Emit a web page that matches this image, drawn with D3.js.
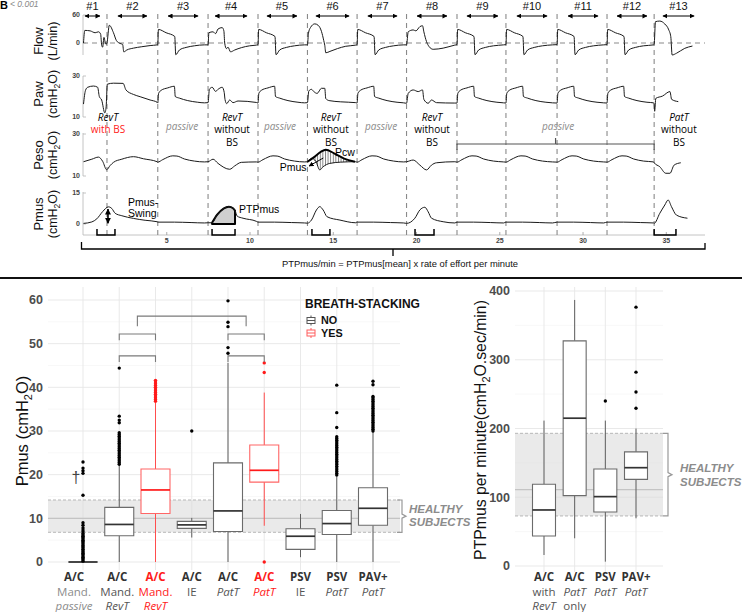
<!DOCTYPE html>
<html><head><meta charset="utf-8">
<script src="https://cdn.jsdelivr.net/npm/d3@7"></script>
<style>html,body{margin:0;padding:0;background:#fff}svg{display:block}</style>
</head><body>
<svg id="chart" width="742" height="612"></svg>
<script>
// ================= TOP PANEL DATA (time in seconds) =================
const breathNames  = ["#1","#2","#3","#4","#5","#6","#7","#8","#9","#10","#11","#12","#13"];
const breathOnsets = [0,1.41,4.46,7.48,10.48,13.45,16.43,19.40,22.43,25.37,28.44,31.44,34.27];
const arrowFrom    = [0.09,2.07,5.08,7.90,11.02,13.96,17.08,20.03,23.03,26.03,29.10,32.04,34.80];
const arrowTo      = [0.99,3.81,6.88,9.82,12.82,15.95,18.83,21.83,24.89,27.84,30.90,33.84,36.67];
const segTimes = [0,4.46,7.48,10.48,13.45,16.43,19.40,22.43,25.37,28.44,31.44,34.27];
const segKinds = ["revtBS","passive","revtA","passive","revtB","passive","revtC","passive","passive","passive","passive","patt"];
const traceEnd = 37.0;

const flowTpl = {
  revtBS:[[0,0],[0.08,27],[0.4,26],[0.7,22],[0.9,24],[1.03,19],[1.09,-4],[1.15,-9],[1.23,12],[1.3,2],[1.36,-3],[1.41,0],[1.55,38],[1.8,22],[1.98,5],[2.2,-1],[2.35,-3],[2.42,-19],[2.6,-15],[3.0,-11],[3.5,-8],[4.0,-5.5],[4.42,-4]],
  passive:[[0,-3.5],[0.04,29],[0.5,22],[1.02,14],[1.08,-25],[1.3,-15],[1.7,-9.5],[2.2,-6],[2.8,-4],[3.1,-3.5]],
  revtA:[[0,-4],[0.05,22],[0.3,24],[0.45,20],[0.6,30],[0.85,33],[0.95,26],[1.0,0],[1.1,-12],[1.2,-9],[1.35,-19],[1.6,-15],[2.0,-10],[2.5,-6],[2.9,-4.5]],
  revtB:[[0,-4],[0.06,21],[0.18,33],[0.44,41],[0.64,38],[0.84,25],[0.98,5],[1.04,-5],[1.1,-21],[1.35,-18],[1.8,-12],[2.3,-7],[2.9,-4.5]],
  revtC:[[0,-4],[0.1,24],[0.4,28],[0.56,26],[0.8,35],[0.96,37],[1.04,24],[1.2,3],[1.36,-8],[1.6,-13.5],[2.2,-11],[2.9,-4.5]],
  patt:[[0,-3],[0.08,45.7],[0.34,47],[0.64,40.7],[0.88,28],[1.0,13.6],[1.08,-25.7],[1.34,-22],[1.84,-11.4],[2.3,-6.5],[2.8,-4.3]]
};
const pawTpl = {
  revtBS:[[0,16.3],[0.12,23],[0.25,24.5],[0.6,25.1],[0.85,24.5],[0.95,20],[1.09,18.3],[1.28,12],[1.36,15],[1.43,26],[1.8,26.5],[2.38,26.4],[2.55,23.2],[3.0,21],[3.4,19.9],[4.0,18.3],[4.42,17.2]],
  passive:[[0,16.8],[0.05,21.5],[0.2,23],[0.6,24.2],[1.0,25],[1.05,20],[1.3,19.2],[1.8,18],[2.4,17.2],[2.8,16.9],[3.1,16.8]],
  revtA:[[0,17],[0.08,23.5],[0.25,24.5],[0.45,22.5],[0.6,23.5],[0.85,24.5],[0.97,22],[1.02,18.5],[1.12,16.5],[1.3,18.3],[1.5,17],[1.8,17.8],[2.9,17.1]],
  revtB:[[0,17],[0.08,22.7],[0.24,23.5],[0.38,22.4],[0.58,21.5],[0.84,24],[1.04,24],[1.1,19],[1.3,18],[2.0,17.4],[2.9,17]],
  revtC:[[0,16.7],[0.1,21.5],[0.4,23.2],[0.7,22.4],[0.96,23.2],[1.04,18.6],[1.3,16.7],[1.5,18.3],[1.8,17],[2.9,16.8]],
  patt:[[0,16.2],[0.03,12.8],[0.1,19.1],[0.5,20.2],[0.95,22.4],[1.05,18.6],[1.45,17.5],[2.8,15.9]]
};
const pesoTpl = {
  revtBS:[[0,16.8],[0.5,18],[0.9,19],[1.15,17],[1.39,13],[1.6,15],[1.8,16.5],[2.3,18],[3.0,19.2],[3.6,18.2],[4.42,16.8]],
  passive:[[0,16.6],[0.3,17.8],[0.9,19.6],[1.15,19.5],[1.6,18.1],[2.2,17.1],[2.8,16.7],[3.1,16.6]],
  revtA:[[0,16.8],[0.3,18],[0.6,16],[1.3,13.2],[1.6,14.8],[2.0,16.5],[2.9,16.7]],
  revtB:[[0,16.8],[0.24,18.4],[0.5,17],[0.74,12.9],[0.94,14.4],[1.34,16],[2.0,16.6],[2.9,16.8]],
  revtC:[[0,16.8],[0.4,17.6],[0.8,15.2],[1.2,12.9],[1.5,15.2],[1.8,16.3],[2.9,16.8]],
  patt:[[0,16.3],[0.34,14.4],[0.7,11.3],[0.95,11.3],[1.2,15.2],[1.6,16.3],[2.8,16.3]]
};
const pmusTpl = {
  revtBS:[[0,0.3],[0.5,1],[0.8,2.5],[1.15,6],[1.5,8.3],[1.7,7.5],[1.9,5.2],[2.3,4],[3.0,2.7],[3.7,1.8],[4.42,1.1]],
  passive:[[0,0.9],[1.0,0.9],[2.0,0.7],[2.8,0.5],[3.1,0.5]],
  revtA:[[0,0.6],[0.24,0.6],[0.55,4.5],[0.95,7.6],[1.25,8.4],[1.5,7.6],[1.62,6.5],[1.75,3.8],[2.1,2.8],[2.9,1.3]],
  revtB:[[0,0.4],[0.24,1.9],[0.54,6.8],[0.74,8.4],[0.94,6.8],[1.18,3.5],[1.95,1.9],[2.9,0.6]],
  revtC:[[0,0.3],[0.5,2.8],[0.8,6.8],[1.1,8.1],[1.3,5.9],[1.5,2.8],[2.2,1.1],[2.9,0.5]],
  patt:[[0,0.3],[0.34,5.2],[0.64,9.2],[0.84,11.6],[1.04,8.4],[1.34,4.3],[2.0,2.8],[2.8,1.1]]
};
const pcwOnset = 13.45;
const pcwKnots = [[0,16.8],[0.4,19],[0.8,21.5],[1.1,22.5],[1.6,20.8],[2.2,18.3],[2.85,16.8]];
const ptpWindow = [7.72, 9.10];
const effortBrackets = [[0.81,1.89],[7.72,9.10],[13.72,14.80],[19.91,21.05],[34.27,35.58]];
const passiveBracket = [22.43, 34.27];
const typeLabelT = [1.47,5.92,8.92,11.80,14.86,17.87,20.93,28.50,35.76];
const typeLabelLines = [["RevT","with BS"],["passive"],["RevT","without","BS"],["passive"],["RevT","without","BS"],["passive"],["RevT","without","BS"],["passive"],["PatT","without","BS"]];
const traceTitles = ["Flow","Paw","Peso","Pmus"];
const traceUnits  = ["(L/min)","(cmH|2|O)","(cmH|2|O)","(cmH|2|O)"];
const flowTicks=[0,60], pawTicks=[10,30], pesoTicks=[10,30], pmusTraceTicks=[0,15];
const timeTicks=[5,10,15,20,25,30,35];

// ================= BOTTOM-LEFT DATA (Pmus, cmH2O) =================
const pmusKeys  = ["passive","mandRevT","mandRevTBS","acIE","acPatT","acPatTBS","psvIE","psvPatT","pavPatT"];
const pmusLine1 = ["A/C","A/C","A/C","A/C","A/C","A/C","PSV","PSV","PAV+"];
const pmusLine2 = ["Mand.","Mand.","Mand.","IE","PatT","PatT","IE","PatT","PatT"];
const pmusLine3 = ["passive","RevT","RevT","","","","","",""];
const pmusBS    = [0,0,1,0,0,1,0,0,0];
const pmusLo  = [0,0,0,5.6,0,8.3,1.1,0,0];
const pmusQ1  = [0,6.0,11.1,7.7,7.0,18.3,2.9,6.3,8.4];
const pmusMed = [0,8.6,16.5,8.5,11.7,21.0,5.9,8.8,12.3];
const pmusQ3  = [0,12.5,21.3,9.3,22.7,26.8,7.6,11.8,17.0];
const pmusHi  = [0,22.2,36.5,10.1,45.6,38.8,11.0,19.6,29.8];
const outPassive = [0.2,0.5,0.8,1.1,1.4,1.7,2.0,2.3,2.6,2.9,3.2,3.5,3.8,4.1,4.4,4.7,5.0,5.3,5.6,5.9,6.2,6.5,6.9,7.3,7.8,8.4,9.0,15.3,20.3,20.9,21.5,22.9];
const outMandRevT = [22.4,22.8,23.2,23.6,24.0,24.4,24.8,25.2,25.6,26.0,26.4,26.8,27.2,27.6,28.0,28.4,28.8,29.2,29.6,31.9,32.5,33.4,44.4];
const outMandRevTBS = [36.8,37.2,37.6,38.0,38.4,38.8,39.2,39.6,40.0,40.4,40.8,41.2,41.6];
const outAcIE = [30.0];
const outAcPatT = [47.8,49.1,53.9,54.9,59.8];
const outAcPatTBS = [0.0,43.4,45.6];
const outPsvIE = [];
const outPsvPatT = [19.9,20.3,20.7,21.1,21.5,21.9,22.3,22.7,23.1,23.5,23.9,24.3,24.7,25.1,25.5,25.9,26.3,26.7,27.1,27.5,27.9,28.3,28.7,30.8,34.2,40.5];
const outPavPatT = [30.0,30.4,30.8,31.2,31.6,32.0,32.4,32.8,33.2,33.6,34.0,34.4,34.8,35.2,35.6,36.0,36.4,36.8,37.2,37.6,37.9,40.6,41.4];
const pmusOut = [outPassive,outMandRevT,outMandRevTBS,outAcIE,outAcPatT,outAcPatTBS,outPsvIE,outPsvPatT,outPavPatT];
const pmusTicks = [0,10,20,30,40,50,60];
const pmusHealthy = [6.8, 14.2, 10];
// significance brackets: [from index, to index, top value, leg value]
const pmusSig = [[1,2,47.2,45.8],[1,2,52.2,50.8],[1.5,4.5,56.3,54.0],[4,5,52.2,50.8],[4,5,47.2,45.8]];
const legendLabels = ["NO","YES"];

// ================= BOTTOM-RIGHT DATA (PTPmus per minute) =================
const ptpKeys  = ["acRevT","acPatT","psvPatT","pavPatT"];
const ptpLine1 = ["A/C","A/C","PSV","PAV+"];
const ptpLine2 = ["with","PatT","PatT","PatT"];
const ptpLine3 = ["RevT","only","",""];
const ptpLo  = [16,40.3,6.3,69.4];
const ptpQ1  = [43.7,102.3,78.6,126];
const ptpMed = [81.5,215,100.9,143];
const ptpQ3  = [118.9,327.5,141.2,166];
const ptpHi  = [211.5,387,211.5,200];
const ptpOut = [[],[],[240],[229.5,253,282,376.5]];
const ptpTicks = [0,100,200,300,400];
const ptpHealthy = [72.8, 193, 111];

// ================= DRAWING =================
const svg = d3.select("#chart");
const SANS = "'Liberation Sans', Arial, Helvetica, sans-serif";
const LAB = "'Open Sans', 'Liberation Sans', sans-serif";
const RED = "#ff1a1a";

const defs = svg.append("defs");
defs.append("marker").attr("id","ah").attr("viewBox","0 0 10 10").attr("refX",9).attr("refY",5)
  .attr("markerWidth",5).attr("markerHeight",5).attr("orient","auto-start-reverse")
  .append("path").attr("d","M0,0L10,5L0,10z").attr("fill","#000");
defs.append("marker").attr("id","ah2").attr("viewBox","0 0 10 10").attr("refX",9).attr("refY",5)
  .attr("markerUnits","userSpaceOnUse").attr("markerWidth",6).attr("markerHeight",6).attr("orient","auto-start-reverse")
  .append("path").attr("d","M0,0L10,5L0,10z").attr("fill","#000");
const hp = defs.append("pattern").attr("id","hatch").attr("width",2.6).attr("height",4).attr("patternUnits","userSpaceOnUse");
hp.append("line").attr("x1",0.5).attr("x2",0.5).attr("y1",0).attr("y2",4).attr("stroke","#222").attr("stroke-width",0.6);

function interp(pts,t){
  for(let i=0;i<pts.length-1;i++){const [a,va]=pts[i],[b,vb]=pts[i+1]; if(t>=a&&t<=b) return va+(vb-va)*(t-a)/(b-a);}
  return t<pts[0][0]?pts[0][1]:pts[pts.length-1][1];
}
function buildTrace(tpl){
  const pts=[];
  segTimes.forEach((t0,i)=>{
    const tEnd = i+1<segTimes.length ? segTimes[i+1] : traceEnd+0.05;
    tpl[segKinds[i]].forEach(([dt,v])=>{ if(t0+dt < tEnd-0.005) pts.push([t0+dt,v]); });
  });
  return pts;
}

// top-left fragment
svg.append("text").attr("x",0).attr("y",9).attr("font-family",SANS).attr("font-weight","bold").attr("font-size",11).text("B");
svg.append("text").attr("x",10).attr("y",7).attr("font-family",SANS).attr("font-style","italic").attr("font-size",8.5).attr("fill","#888").text("< 0.001");

const tx = d3.scaleLinear().domain([0,37]).range([83.5,699.6]);
const yFlow = d3.scaleLinear().domain([0,60]).range([43,15]);
const yPaw  = d3.scaleLinear().domain([10,30]).range([117,76]);
const yPeso = d3.scaleLinear().domain([10,30]).range([176,134]);
const yPm   = d3.scaleLinear().domain([0,15]).range([224,193]);

const topG = svg.append("g");
const axesDef = [[yFlow,flowTicks,[15,55]],[yPaw,pawTicks,[76,117]],[yPeso,pesoTicks,[133,176]],[yPm,pmusTraceTicks,[192,235]]];
axesDef.forEach(([ys,ticks,ext])=>{
  topG.append("line").attr("x1",83).attr("x2",83).attr("y1",ext[0]).attr("y2",ext[1]).attr("stroke","#b5b5b5").attr("stroke-width",0.8);
  ticks.forEach(v=>{
    topG.append("line").attr("x1",83).attr("x2",86).attr("y1",ys(v)).attr("y2",ys(v)).attr("stroke","#b5b5b5").attr("stroke-width",0.8);
    topG.append("text").attr("x",80).attr("y",ys(v)).attr("dy","0.35em").attr("text-anchor","end")
      .attr("font-family",SANS).attr("font-weight","bold").attr("font-size",7).attr("fill","#444").text(v);
  });
});
topG.append("line").attr("x1",83).attr("x2",705).attr("y1",235).attr("y2",235).attr("stroke","#b5b5b5").attr("stroke-width",0.8);
timeTicks.forEach(v=>{
  topG.append("line").attr("x1",tx(v)).attr("x2",tx(v)).attr("y1",232).attr("y2",235).attr("stroke","#999").attr("stroke-width",0.8);
  topG.append("text").attr("x",tx(v)).attr("y",241).attr("dy","0.35em").attr("text-anchor","middle")
    .attr("font-family",SANS).attr("font-weight","bold").attr("font-size",7).attr("fill","#444").text(v);
});
const titleY = [41,94,155,214];
traceTitles.forEach((t,i)=>{
  const g = topG.append("g").attr("transform",`translate(38,${titleY[i]}) rotate(-90)`);
  g.append("text").attr("text-anchor","middle").attr("dy","0.35em").attr("font-family",SANS).attr("font-size",13).attr("fill","#111").text(t);
  const u = topG.append("g").attr("transform",`translate(53,${titleY[i]}) rotate(-90)`)
    .append("text").attr("text-anchor","middle").attr("dy","0.35em").attr("font-family",SANS).attr("font-size",12.5).attr("fill","#111");
  const parts = traceUnits[i].split("|");
  parts.forEach((p,j)=>{
    const ts = u.append("tspan").text(p);
    if(j===1) ts.attr("font-size",8.5).attr("dy","3");
    if(j===2) ts.attr("dy","-3");
  });
});
breathOnsets.slice(1).forEach(t=>{
  topG.append("line").attr("x1",tx(t)).attr("x2",tx(t)).attr("y1",14).attr("y2",236)
    .attr("stroke","#8a8a8a").attr("stroke-width",1.1).attr("stroke-dasharray","5,4");
});
topG.append("line").attr("x1",83).attr("x2",705).attr("y1",yFlow(0)).attr("y2",yFlow(0))
  .attr("stroke","#8a8a8a").attr("stroke-width",1.1).attr("stroke-dasharray","5,4");
breathNames.forEach((n,i)=>{
  const mid = (tx(arrowFrom[i])+tx(arrowTo[i]))/2;
  topG.append("text").attr("x",mid).attr("y",6).attr("dy","0.35em").attr("text-anchor","middle")
    .attr("font-family",SANS).attr("font-size",11).attr("fill","#111").text(n);
  topG.append("line").attr("x1",tx(arrowFrom[i])).attr("x2",tx(arrowTo[i])).attr("y1",16).attr("y2",16)
    .attr("stroke","#000").attr("stroke-width",1).attr("marker-start","url(#ah)").attr("marker-end","url(#ah)");
});
const flowPts = buildTrace(flowTpl), pawPts = buildTrace(pawTpl), pesoPts = buildTrace(pesoTpl), pmusPts = buildTrace(pmusTpl);
const mk = ys => d3.line().x(d=>tx(d[0])).y(d=>ys(d[1])).curve(d3.curveMonotoneX);
const pcwAbs = pcwKnots.map(([d,v])=>[pcwOnset+d,v]);
const hTimes = Array.from(new Set(pcwAbs.map(d=>d[0]).concat(pesoPts.map(d=>d[0]).filter(t=>t>pcwAbs[0][0]&&t<pcwAbs[pcwAbs.length-1][0])))).sort((a,b)=>a-b);
topG.append("path").datum(hTimes).attr("fill","url(#hatch)")
  .attr("d", d3.area().x(t=>tx(t)).y0(t=>yPeso(interp(pesoPts,t))).y1(t=>yPeso(interp(pcwAbs,t))).curve(d3.curveMonotoneX));
const ptpPts = [[ptpWindow[0],interp(pmusPts,ptpWindow[0])]].concat(pmusPts.filter(d=>d[0]>ptpWindow[0]&&d[0]<ptpWindow[1])).concat([[ptpWindow[1],interp(pmusPts,ptpWindow[1])]]);
const ptpPath = d3.area().x(d=>tx(d[0])).y0(yPm(0)).y1(d=>yPm(d[1])).curve(d3.curveMonotoneX);
topG.append("path").datum(ptpPts).attr("d",ptpPath).attr("fill","#cfcfcf").attr("stroke","#000").attr("stroke-width",2).attr("stroke-linejoin","round");

[[flowPts,yFlow],[pawPts,yPaw],[pesoPts,yPeso],[pmusPts,yPm]].forEach(([p,ys])=>{
  topG.append("path").datum(p).attr("d",mk(ys)).attr("fill","none").attr("stroke","#1a1a1a").attr("stroke-width",1);
});
topG.append("path").datum(pcwAbs).attr("d",mk(yPeso)).attr("fill","none").attr("stroke","#000").attr("stroke-width",2);

topG.append("text").attr("x",tx(15.1)).attr("y",152).attr("dy","0.35em").attr("font-family",SANS).attr("font-size",10.5).text("Pcw");
topG.append("text").attr("x",tx(13.4)).attr("y",167).attr("dy","0.35em").attr("text-anchor","end").attr("font-family",SANS).attr("font-size",10.5).text("Pmus");
topG.append("line").attr("x1",tx(14.4)).attr("y1",158).attr("x2",tx(13.55)).attr("y2",166).attr("stroke","#000").attr("stroke-width",1).attr("marker-end","url(#ah)");
topG.append("line").attr("x1",tx(1.47)).attr("x2",tx(1.47)).attr("y1",yPm(7.2)).attr("y2",yPm(0.4))
  .attr("stroke","#000").attr("stroke-width",1.6).attr("marker-start","url(#ah2)").attr("marker-end","url(#ah2)");
topG.append("text").attr("x",128).attr("y",202).attr("dy","0.35em").attr("font-family",SANS).attr("font-size",10.5).text("Pmus-");
topG.append("text").attr("x",128).attr("y",213).attr("dy","0.35em").attr("font-family",SANS).attr("font-size",10.5).text("Swing");
topG.append("text").attr("x",239).attr("y",209).attr("dy","0.35em").attr("font-family",SANS).attr("font-size",10.5).text("PTPmus");
effortBrackets.forEach(([a,b])=>{
  topG.append("path").attr("d",`M${tx(a)},229V235H${tx(b)}V229`).attr("fill","none").attr("stroke","#000").attr("stroke-width",1.5);
});
{const a=tx(passiveBracket[0]), b=tx(passiveBracket[1]), m=(a+b)/2;
 topG.append("path").attr("d",`M${a},150V144H${b}V150M${m},144V138`).attr("fill","none").attr("stroke","#555").attr("stroke-width",1.2);}
const lineY=[117,129.5,142];
typeLabelT.forEach((t,i)=>{
  const lines = typeLabelLines[i];
  lines.forEach((s,j)=>{
    const el = topG.append("text").attr("x",tx(t)).attr("y",lines.length===1?126:lineY[j]).attr("dy","0.35em")
      .attr("text-anchor","middle").attr("font-family",LAB).attr("font-size",10).text(s);
    if(s==="passive") el.attr("font-style","italic").attr("fill","#8c8c8c");
    else if(s==="RevT"||s==="PatT") el.attr("font-style","italic").attr("fill","#000");
    else if(s==="with BS") el.attr("fill",RED);
    else el.attr("fill","#000");
  });
});
{const a=tx(0)-2, b=705, m=393;
 topG.append("path").attr("d",`M${a},242V249H${b}V243M${m},249V256`).attr("fill","none").attr("stroke","#000").attr("stroke-width",1.3);
 topG.append("text").attr("x",400).attr("y",264).attr("dy","0.35em").attr("text-anchor","middle").attr("font-family",SANS).attr("font-size",9.4).attr("fill","#111")
   .text("PTPmus/min = PTPmus[mean] x rate of effort per minute");}

svg.append("line").attr("x1",0).attr("x2",742).attr("y1",278).attr("y2",278).attr("stroke","#111").attr("stroke-width",2);

function drawPanel(o){
  const g = svg.append("g");
  const {x0,x1,yTop,yBot,ys,xs,keys,ticks,minor} = o;
  minor.forEach(v=>g.append("line").attr("x1",x0).attr("x2",x1).attr("y1",ys(v)).attr("y2",ys(v)).attr("stroke","#f3f3f3").attr("stroke-width",0.6));
  ticks.forEach(v=>g.append("line").attr("x1",x0).attr("x2",x1).attr("y1",ys(v)).attr("y2",ys(v)).attr("stroke","#e6e6e6").attr("stroke-width",0.9));
  keys.forEach(k=>g.append("line").attr("x1",xs(k)).attr("x2",xs(k)).attr("y1",yTop).attr("y2",yBot).attr("stroke","#e6e6e6").attr("stroke-width",0.9));
  const [hl,hh,hm] = o.healthy;
  g.append("rect").attr("x",x0).attr("width",x1-x0).attr("y",ys(hh)).attr("height",ys(hl)-ys(hh)).attr("fill","#d9d9d9").attr("opacity",0.55);
  [hl,hh].forEach(v=>g.append("line").attr("x1",x0).attr("x2",x1).attr("y1",ys(v)).attr("y2",ys(v)).attr("stroke","#b0b0b0").attr("stroke-width",0.9).attr("stroke-dasharray","3,2"));
  g.append("line").attr("x1",x0).attr("x2",x1).attr("y1",ys(hm)).attr("y2",ys(hm)).attr("stroke","#c4c4c4").attr("stroke-width",1.2);
  const bx=o.braceX, yt=ys(hh), yb=ys(hl), ym=(yt+yb)/2;
  g.append("path").attr("d",`M${bx},${yt}H${bx+5}V${ym-2}L${bx+9},${ym}L${bx+5},${ym+2}V${yb}H${bx}`).attr("fill","none").attr("stroke","#999").attr("stroke-width",1.2);
  ["HEALTHY","SUBJECTS"].forEach((s,j)=>g.append("text").attr("x",o.hx).attr("y",o.hy[j]).attr("dy","0.35em")
     .attr("font-family",SANS).attr("font-weight","bold").attr("font-style","italic").attr("font-size",11.5).attr("fill","#8c8c8c").text(s));
  ticks.forEach(v=>g.append("text").attr("x",o.tickX).attr("y",ys(v)).attr("dy","0.35em").attr("text-anchor","end")
     .attr("font-family",SANS).attr("font-weight","bold").attr("font-size",12.5).attr("fill","#4d4d4d").text(v));
  keys.forEach((k,i)=>{
    const x = xs(k), w=o.bw, red = o.bs[i];
    const sc = red? "#ff6666":"#6b6b6b", mc = red? RED:"#333", wc = red? "#ff4d4d":"#5e5e5e";
    g.append("line").attr("x1",x).attr("x2",x).attr("y1",ys(o.lo[i])).attr("y2",ys(o.q1[i])).attr("stroke",wc).attr("stroke-width",1);
    g.append("line").attr("x1",x).attr("x2",x).attr("y1",ys(o.q3[i])).attr("y2",ys(o.hi[i])).attr("stroke",wc).attr("stroke-width",1);
    g.append("path").attr("d",`M${x-w/2},${ys(o.q3[i])}H${x+w/2}V${ys(o.q1[i])}H${x-w/2}Z`).attr("fill","#fff").attr("stroke",sc).attr("stroke-width",1.1);
    g.append("line").attr("x1",x-w/2).attr("x2",x+w/2).attr("y1",ys(o.med[i])).attr("y2",ys(o.med[i])).attr("stroke",mc).attr("stroke-width",1.7);
    o.out[i].forEach(v=>g.append("circle").attr("cx",x).attr("cy",ys(v)).attr("r",1.7).attr("fill",red?RED:"#000"));
  });
  keys.forEach((k,i)=>{
    const x = xs(k)+(o.labShift?o.labShift[i]:0), red=o.bs[i], pas = (o.l3[i]==="passive");
    const c1 = red?RED:"#333", c2 = red?RED:(pas?"#8c8c8c":"#555");
    [o.l1[i],o.l2[i],o.l3[i]].forEach((s,j)=>{
      if(!s) return;
      const el = g.append("text").attr("x",x).attr("y",o.labY[j]).attr("dy","0.35em").attr("text-anchor","middle")
        .attr("font-family",LAB).attr("font-size",11.5).attr("fill",j===0?c1:c2).text(s);
      if(j===0) el.attr("font-weight","bold");
      if(s==="RevT"||s==="PatT"||s==="passive") el.attr("font-style","italic");
    });
  });
  const tt = g.append("g").attr("transform",`translate(${o.titleX},${o.titleY}) rotate(-90)`).append("text")
     .attr("text-anchor","middle").attr("dy","0.35em").attr("font-family",SANS).attr("font-size",o.titleSize).attr("fill","#111");
  o.title.forEach((p,j)=>{const ts=tt.append("tspan").text(p); if(j===1) ts.attr("font-size",11).attr("dy",4); if(j===2) ts.attr("dy",-4);});
  return g;
}

const yP = d3.scaleLinear().domain([0,60]).range([562,300]);
const xP = d3.scalePoint().domain(pmusKeys).range([83,373]);
const gL = drawPanel({x0:48,x1:400,yTop:287,yBot:570,ys:yP,xs:xP,keys:pmusKeys,ticks:pmusTicks,minor:[5,15,25,35,45,55],
  healthy:pmusHealthy,braceX:397,hx:409,hy:[509,522],tickX:43,bw:29,bs:pmusBS,
  lo:pmusLo,q1:pmusQ1,med:pmusMed,q3:pmusQ3,hi:pmusHi,out:pmusOut,
  l1:pmusLine1,l2:pmusLine2,l3:pmusLine3,labY:[577,592,606],labShift:[-9,-2,0,0,0,0,0,0,0],
  titleX:22,titleY:431,titleSize:16.5,title:["Pmus (cmH","2","O)"]});
gL.append("text").attr("x",xP(pmusKeys[0])-7).attr("y",yP(19.3)).attr("dy","0.35em").attr("text-anchor","middle")
  .attr("font-family",SANS).attr("font-size",16).attr("fill","#444").text("†");
const step = xP.step();
pmusSig.forEach(([a,b,top_,leg])=>{
  const xa = xP(pmusKeys[0])+a*step, xb = xP(pmusKeys[0])+b*step;
  gL.append("path").attr("d",`M${xa},${yP(leg)}V${yP(top_)}H${xb}V${yP(leg)}`).attr("fill","none").attr("stroke","#7a7a7a").attr("stroke-width",1.1);
});
gL.append("text").attr("x",305).attr("y",304).attr("dy","0.35em").attr("font-family",SANS).attr("font-weight","bold").attr("font-size",12).attr("fill","#111").text("BREATH-STACKING");
legendLabels.forEach((s,i)=>{
  const yc = 320.5+i*12.5, c = i? "#ff5c5c":"#555";
  gL.append("line").attr("x1",311).attr("x2",311).attr("y1",yc-5).attr("y2",yc+5).attr("stroke",c).attr("stroke-width",1);
  gL.append("rect").attr("x",307).attr("y",yc-3).attr("width",8).attr("height",6).attr("fill","#fff").attr("stroke",c).attr("stroke-width",1);
  gL.append("line").attr("x1",307).attr("x2",315).attr("y1",yc).attr("y2",yc).attr("stroke",c).attr("stroke-width",1);
  gL.append("text").attr("x",321).attr("y",yc).attr("dy","0.35em").attr("font-family",SANS).attr("font-weight","bold").attr("font-size",10.8).attr("fill","#111").text(s);
});

const yR = d3.scaleLinear().domain([0,400]).range([566,291]);
const xR = d3.scalePoint().domain(ptpKeys).range([544,636]);
drawPanel({x0:515,x1:663,yTop:287,yBot:572,ys:yR,xs:xR,keys:ptpKeys,ticks:ptpTicks,minor:[50,150,250,350],
  healthy:ptpHealthy,braceX:663,hx:680,hy:[468,482],tickX:510,bw:23,bs:[0,0,0,0],
  lo:ptpLo,q1:ptpQ1,med:ptpMed,q3:ptpQ3,hi:ptpHi,out:ptpOut,
  l1:ptpLine1,l2:ptpLine2,l3:ptpLine3,labY:[577,592,606],
  titleX:480,titleY:430,titleSize:15.8,title:["PTPmus per minute(cmH","2","O.sec/min)"]});
</script>
</body></html>
